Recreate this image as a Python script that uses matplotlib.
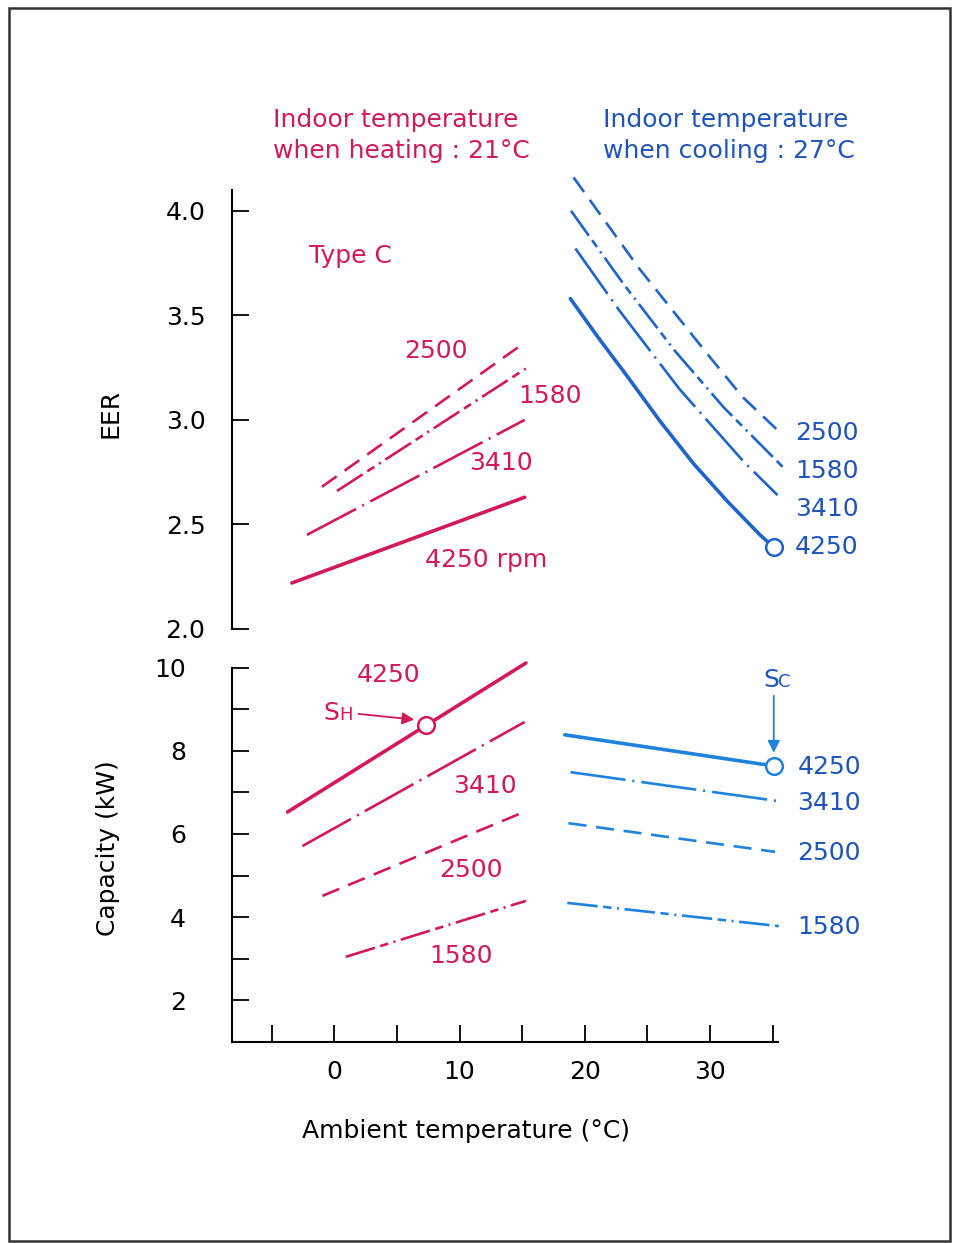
import matplotlib
matplotlib.use("Agg")
import matplotlib.pyplot as plt
from matplotlib.patches import Rectangle

plt.rcParams['font.family'] = ['DejaVu Sans']
plt.rcParams['lines.scale_dashes'] = False

# colours
red = "#d21a57"
blue_txt = "#1f55bb"
blue_eer = "#1f64c9"
blue_cap = "#1f82dc"

# --- EER, heating (ambient temperature, EER) ---
h_eer_T_4250 = [-3.4, 15.2]
h_eer_4250 = [2.22, 2.63]
h_eer_T_3410 = [-2.2, 15.2]
h_eer_3410 = [2.45, 3.00]
h_eer_T_2500 = [-1.0, 15.2]
h_eer_2500 = [2.68, 3.37]
h_eer_T_1580 = [0.2, 15.4]
h_eer_1580 = [2.66, 3.25]

# --- EER, cooling ---
c_eer_T_4250 = [18.85, 21.0, 23.5, 26.0, 28.7, 31.4, 34.0, 35.1]
c_eer_4250 = [3.58, 3.40, 3.20, 2.995, 2.79, 2.61, 2.45, 2.39]
c_eer_T_3410 = [19.25, 22.8, 27.6, 32.7, 35.4]
c_eer_3410 = [3.82, 3.52, 3.145, 2.80, 2.64]
c_eer_T_2500 = [19.1, 24.4, 30.0, 32.6, 35.6]
c_eer_2500 = [4.16, 3.72, 3.30, 3.11, 2.94]
c_eer_T_1580 = [18.9, 23.1, 27.2, 31.1, 35.9]
c_eer_1580 = [4.00, 3.65, 3.33, 3.06, 2.77]

# --- Capacity (kW), heating ---
h_cap_T_4250 = [-3.75, 15.3]
h_cap_4250 = [6.53, 10.12]
h_cap_T_3410 = [-2.56, 15.2]
h_cap_3410 = [5.71, 8.70]
h_cap_T_2500 = [-0.96, 15.3]
h_cap_2500 = [4.51, 6.55]
h_cap_T_1580 = [0.9, 15.3]
h_cap_1580 = [3.04, 4.39]

# --- Capacity (kW), cooling ---
c_cap_T_4250 = [18.4, 35.1]
c_cap_4250 = [8.39, 7.64]
c_cap_T_3410 = [18.85, 35.3]
c_cap_3410 = [7.49, 6.80]
c_cap_T_2500 = [18.7, 35.2]
c_cap_2500 = [6.26, 5.57]
c_cap_T_1580 = [18.6, 35.5]
c_cap_1580 = [4.34, 3.78]

# rating points
sh_point = (7.3, 8.62)
sc_point = (35.1, 7.64)

eer_ticks = [2.0, 2.5, 3.0, 3.5, 4.0]
cap_ticks = [2, 4, 6, 8, 10]
cap_minor = [3, 5, 7, 9]
x_ticks = [0, 10, 20, 30]
x_minor = [-5, 5, 15, 25, 35]

# line styles per fan speed
styles = {
    4250: dict(lw=2.6, ls="-", solid_capstyle="round"),
    3410: dict(lw=1.9, ls=(0, (40, 5, 1.5, 5))),
    2500: dict(lw=1.9, ls=(0, (13, 7))),
    1580: dict(lw=1.9, ls=(0, (22, 4, 6, 4, 1.5, 4))),
}

fs = 18
fig = plt.figure(figsize=(9.56, 12.43), dpi=100)

ax1 = fig.add_axes([0.2425, 0.494, 0.5708, 0.3532])
ax2 = fig.add_axes([0.2425, 0.1621, 0.5708, 0.3005])

for ax in (ax1, ax2):
    ax.set_xlim(-8.2, 35.4)
    for s in ("top", "right"):
        ax.spines[s].set_visible(False)
    ax.spines["left"].set_linewidth(1.5)
    ax.spines["bottom"].set_linewidth(1.5)

# upper panel
ax1.set_ylim(2.0, 4.1)
ax1.spines["bottom"].set_visible(False)
ax1.set_xticks([])
ax1.set_yticks(eer_ticks)
ax1.set_yticklabels([f"{v:.1f}" for v in eer_ticks])
ax1.tick_params(axis="y", direction="in", length=12, width=1.3, pad=19, labelsize=fs)

for rpm, T, v in [(4250, h_eer_T_4250, h_eer_4250), (3410, h_eer_T_3410, h_eer_3410),
                  (2500, h_eer_T_2500, h_eer_2500), (1580, h_eer_T_1580, h_eer_1580)]:
    ax1.plot(T, v, color=red, clip_on=False, **styles[rpm])
for rpm, T, v in [(4250, c_eer_T_4250, c_eer_4250), (3410, c_eer_T_3410, c_eer_3410),
                  (2500, c_eer_T_2500, c_eer_2500), (1580, c_eer_T_1580, c_eer_1580)]:
    ax1.plot(T, v, color=blue_eer, clip_on=False, **styles[rpm])
ax1.plot(c_eer_T_4250[-1], c_eer_4250[-1], "o", ms=12, mfc="white", mec=blue_eer, mew=1.8, clip_on=False)

ax1.text(1.3, 3.785, "Type C", color=red, fontsize=fs, ha="center", va="center")
ax1.text(8.1, 3.33, "2500", color=red, fontsize=fs, ha="center", va="center")
ax1.text(17.25, 3.115, "1580", color=red, fontsize=fs, ha="center", va="center")
ax1.text(13.3, 2.794, "3410", color=red, fontsize=fs, ha="center", va="center")
ax1.text(12.1, 2.33, "4250 rpm", color=red, fontsize=fs, ha="center", va="center")
for lab, y in [("2500", 2.938), ("1580", 2.756), ("3410", 2.574), ("4250", 2.392)]:
    ax1.text(36.8, y, lab, color=blue_txt, fontsize=fs, ha="left", va="center")

# lower panel
ax2.set_ylim(1, 10)
ax2.set_yticks(cap_ticks)
ax2.set_yticks(cap_minor, minor=True)
ax2.set_xticks(x_ticks)
ax2.set_xticks(x_minor, minor=True)
ax2.tick_params(axis="y", which="both", direction="in", length=12, width=1.3, pad=33, labelsize=fs)
ax2.tick_params(axis="x", which="both", direction="in", length=12, width=1.3, pad=13, labelsize=fs)

for rpm, T, v in [(4250, h_cap_T_4250, h_cap_4250), (3410, h_cap_T_3410, h_cap_3410),
                  (2500, h_cap_T_2500, h_cap_2500), (1580, h_cap_T_1580, h_cap_1580)]:
    ax2.plot(T, v, color=red, clip_on=False, **styles[rpm])
for rpm, T, v in [(4250, c_cap_T_4250, c_cap_4250), (3410, c_cap_T_3410, c_cap_3410),
                  (2500, c_cap_T_2500, c_cap_2500), (1580, c_cap_T_1580, c_cap_1580)]:
    ax2.plot(T, v, color=blue_cap, clip_on=False, **styles[rpm])
ax2.plot(*sh_point, "o", ms=12, mfc="white", mec=red, mew=1.8, clip_on=False, zorder=5)
ax2.plot(*sc_point, "o", ms=12, mfc="white", mec=blue_cap, mew=1.8, clip_on=False, zorder=5)

ax2.text(4.3, 9.83, "4250", color=red, fontsize=fs, ha="center", va="center")
ax2.text(12.0, 7.16, "3410", color=red, fontsize=fs, ha="center", va="center")
ax2.text(10.9, 5.13, "2500", color=red, fontsize=fs, ha="center", va="center")
ax2.text(10.1, 3.06, "1580", color=red, fontsize=fs, ha="center", va="center")
for lab, y in [("4250", 7.61), ("3410", 6.75), ("2500", 5.54), ("1580", 3.76)]:
    ax2.text(37.0, y, lab, color=blue_txt, fontsize=fs, ha="left", va="center")

# S_H and S_C markers with arrows
ax2.text(-0.9, 8.92, "S", color=red, fontsize=fs, ha="left", va="center")
ax2.text(0.35, 8.87, "H", color=red, fontsize=13, ha="left", va="center")
ax2.annotate("", xy=(6.6, 8.75), xytext=(1.7, 8.9),
             arrowprops=dict(arrowstyle="-|>", color=red, lw=1.3, mutation_scale=18))
ax2.text(34.27, 9.71, "S", color=blue_txt, fontsize=fs, ha="left", va="center")
ax2.text(35.4, 9.66, "C", color=blue_txt, fontsize=13, ha="left", va="center")
ax2.annotate("", xy=(sc_point[0], sc_point[1] + 0.25), xytext=(sc_point[0], 9.4),
             arrowprops=dict(arrowstyle="-|>", color=blue_cap, lw=1.3, mutation_scale=18))

# headings and axis labels
fig.text(0.2856, 0.891, "Indoor temperature\nwhen heating : 21°C", color=red,
         fontsize=18, ha="left", va="center", linespacing=1.32)
fig.text(0.6308, 0.891, "Indoor temperature\nwhen cooling : 27°C", color=blue_txt,
         fontsize=18, ha="left", va="center", linespacing=1.32)
fig.text(0.1151, 0.6677, "EER", fontsize=fs, rotation=90, ha="center", va="center")
fig.text(0.113, 0.3178, "Capacity (kW)", fontsize=fs, rotation=90, ha="center", va="center")
fig.text(0.4874, 0.0901, "Ambient temperature (°C)", fontsize=fs, ha="center", va="center")

# page frame
fig.add_artist(Rectangle((0.0094, 0.0016), 0.9843, 0.992, transform=fig.transFigure,
                         fill=False, edgecolor="#333333", lw=1.8))

fig.savefig("out.png", dpi=100)
